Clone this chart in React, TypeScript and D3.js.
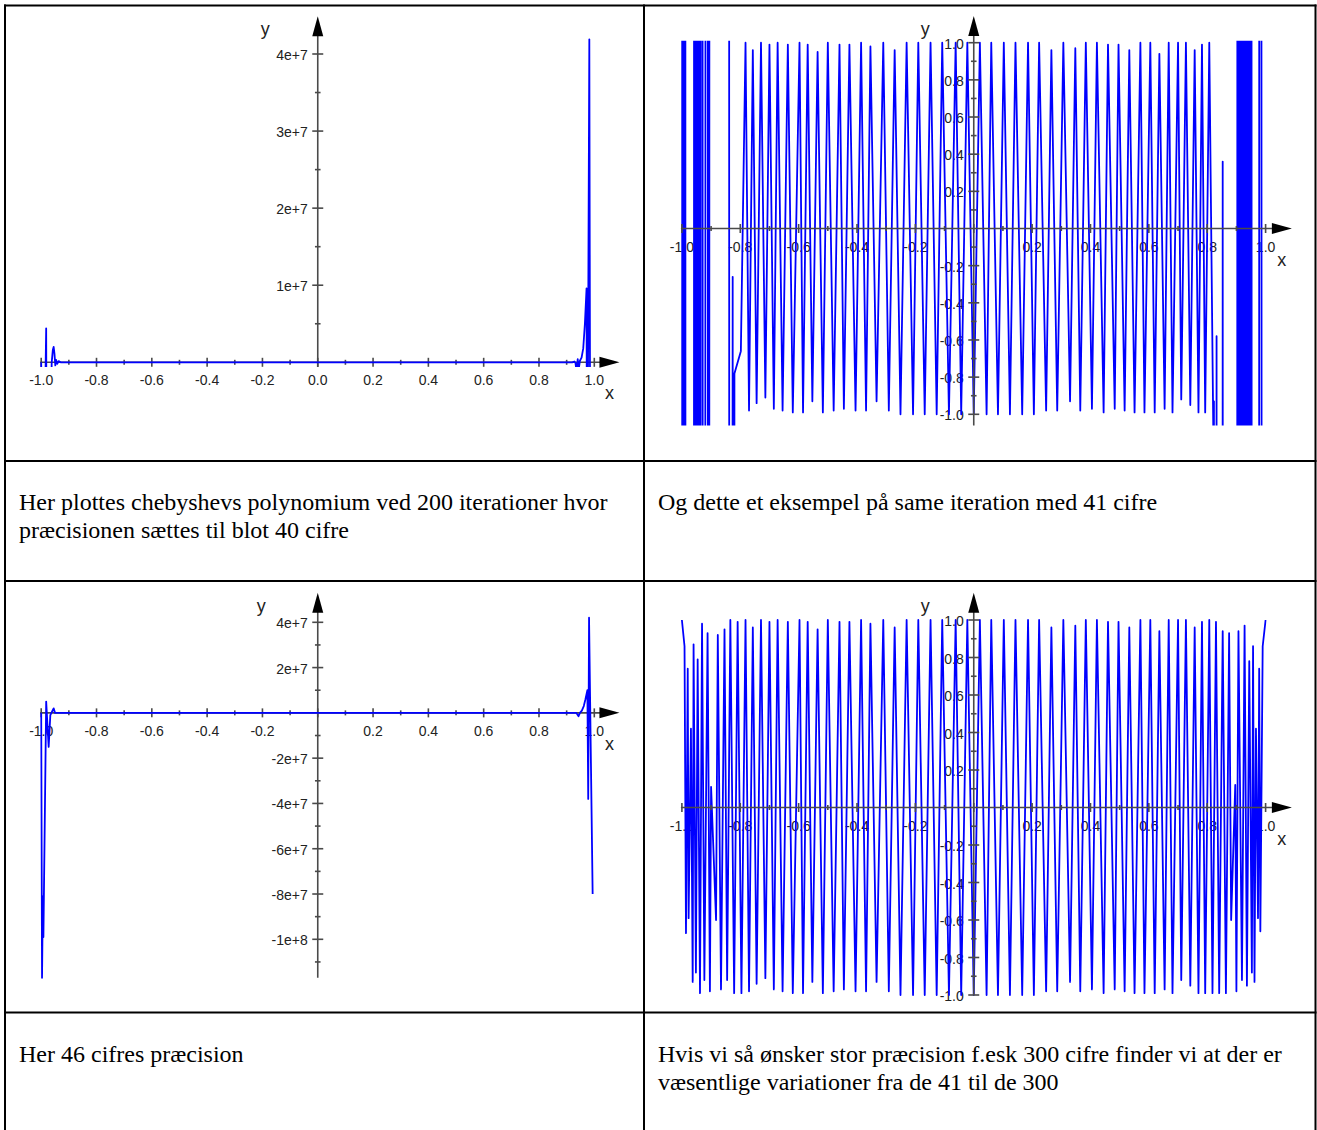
import React from 'react';
import * as d3 from 'd3';

type Pt = [number, number];

// x ticks (shared by all four plots)
const xMajor = [-1, -0.8, -0.6, -0.4, -0.2, 0, 0.2, 0.4, 0.6, 0.8, 1];
const xMajorLabels = ['-1.0', '-0.8', '-0.6', '-0.4', '-0.2', '0.0', '0.2', '0.4', '0.6', '0.8', '1.0'];
const xMinor = [-0.9, -0.7, -0.5, -0.3, -0.1, 0.1, 0.3, 0.5, 0.7, 0.9];

// y ticks
const p1YMajor = [1e7, 2e7, 3e7, 4e7];
const p1YLabels = ['1e+7', '2e+7', '3e+7', '4e+7'];
const p1YMinor = [5e6, 1.5e7, 2.5e7, 3.5e7];

const p3YMajor = [4e7, 2e7, -2e7, -4e7, -6e7, -8e7, -1e8];
const p3YLabels = ['4e+7', '2e+7', '-2e+7', '-4e+7', '-6e+7', '-8e+7', '-1e+8'];
const p3YMinor = [3e7, 1e7, -1e7, -3e7, -5e7, -7e7, -9e7, -1.1e8];

const unitYMajor = [1, 0.8, 0.6, 0.4, 0.2, -0.2, -0.4, -0.6, -0.8, -1];
const unitYLabels = ['1.0', '0.8', '0.6', '0.4', '0.2', '-0.2', '-0.4', '-0.6', '-0.8', '-1.0'];
const unitYMinor = [0.9, 0.7, 0.5, 0.3, 0.1, -0.1, -0.3, -0.5, -0.7, -0.9];

// 40 digits: flat, blows up at the ends
const p1Series: Pt[] = [
  [-1, 0], [-0.996, -3e7], [-0.982, 4.4e6], [-0.979, -3e7], [-0.962, 0], [-0.958, 1.6e6],
  [-0.955, 2.0e6], [-0.952, 1.1e6], [-0.949, -4e5], [-0.946, 3e5], [-0.942, -2e5], [-0.937, 1.5e5],
  [-0.93, 0], [0.92, 0], [0.928, 1e5], [0.932, -1e5], [0.936, -1.2e6], [0.94, 4e5], [0.944, -8e5],
  [0.948, 2e5], [0.954, 6e5], [0.96, 1.8e6], [0.966, 5.0e6], [0.972, 9.6e6], [0.974, -3e7],
  [0.982, 4.19e7], [0.986, -3e7], [1, -3e7],
];

// 46 digits
const p3Series: Pt[] = [
  [-1, 0], [-0.997, -11.7e7], [-0.994, -8.1e7], [-0.992, -9.9e7], [-0.982, 0.5e7], [-0.973, -1.5e7],
  [-0.967, -0.1e7], [-0.961, 0.05e7], [-0.955, 0.2e7], [-0.95, 0], [-0.94, 0], [0.935, 0],
  [0.943, -0.15e7], [0.948, 0], [0.955, 0.1e7], [0.962, 0.3e7], [0.968, 0.6e7], [0.975, 1.0e7],
  [0.978, -3.8e7], [0.981, 4.2e7], [0.994, -8.0e7],
];

// zigzag in the middle, the same in the 41 and 300 digit plots
const middle: Pt[] = [
  [-0.782, 1.0], [-0.770, -0.98], [-0.757, 0.96], [-0.744, -0.94], [-0.729, 1.0], [-0.714, -0.91],
  [-0.700, 0.99], [-0.685, -0.97], [-0.672, 1.0], [-0.655, -0.98], [-0.637, 0.99], [-0.620, -0.99],
  [-0.597, 1.0], [-0.585, -0.99], [-0.569, 0.99], [-0.553, -0.93], [-0.535, 0.95], [-0.517, -0.99],
  [-0.500, 1.0], [-0.480, -0.98], [-0.460, 0.99], [-0.445, -0.97], [-0.426, 0.99], [-0.405, -0.98],
  [-0.386, 1.0], [-0.369, -0.98], [-0.354, 0.98], [-0.333, -0.93], [-0.310, 1.0], [-0.291, -0.98],
  [-0.271, 0.96], [-0.251, -1.0], [-0.230, 1.0], [-0.208, -1.0], [-0.190, 1.0], [-0.168, -1.0],
  [-0.148, 1.0], [-0.127, -1.0], [-0.108, 1.0], [-0.085, -1.0], [-0.062, 1.0], [-0.043, -1.0],
  [-0.022, 1.0], [0.0, -1.0], [0.021, 1.0], [0.044, -1.0], [0.060, 1.0], [0.083, -1.0],
  [0.103, 1.0], [0.124, -1.0], [0.143, 1.0], [0.166, -1.0], [0.186, 1.0], [0.206, -1.0],
  [0.224, 1.0], [0.248, -0.98], [0.266, 0.96], [0.286, -0.98], [0.307, 1.0], [0.330, -0.93],
  [0.348, 0.97], [0.365, -0.98], [0.384, 1.0], [0.405, -0.97], [0.422, 1.0], [0.445, -0.99],
  [0.460, 0.99], [0.483, -0.97], [0.496, 0.99], [0.517, -0.98], [0.533, 0.96], [0.551, -0.99],
  [0.571, 1.0], [0.585, -0.99], [0.605, 1.0], [0.620, -0.99], [0.636, 0.94], [0.654, -0.97],
  [0.668, 1.0], [0.681, -0.99], [0.700, 1.0], [0.711, -0.92], [0.727, 1.0], [0.742, -0.95],
  [0.757, 0.96], [0.770, -0.99], [0.782, 0.99], [0.793, -0.99], [0.807, 1.0],
];

// 300 digits, ends
const p4Left: Pt[] = [
  [-1.0, 1.0], [-0.991, 0.86], [-0.986, -0.67], [-0.980, 0.74], [-0.977, -0.59], [-0.969, 0.42],
  [-0.963, -0.93], [-0.960, 0.87], [-0.952, -0.88], [-0.946, 0.79], [-0.938, -0.99], [-0.931, 0.98],
  [-0.923, -0.92], [-0.912, 0.93], [-0.904, -0.98], [-0.900, 0.11], [-0.883, -0.60], [-0.877, 0.92],
  [-0.866, -0.97], [-0.854, 0.95], [-0.845, -0.92], [-0.834, 1.0], [-0.821, -0.99], [-0.809, 0.99],
  [-0.796, -0.99],
];
const p4Right: Pt[] = [
  [0.818, -0.99], [0.830, 0.99], [0.841, -0.99], [0.853, 0.94], [0.864, -0.99], [0.875, 0.93],
  [0.882, -0.60], [0.896, 0.12], [0.900, -0.98], [0.907, 0.94], [0.919, -0.92], [0.928, 0.97],
  [0.936, -0.95], [0.944, 0.78], [0.953, -0.88], [0.957, 0.86], [0.962, -0.93], [0.967, 0.42],
  [0.974, -0.59], [0.978, 0.74], [0.982, -0.66], [0.990, 0.86], [1.0, 1.0],
];

// 41 digits, ends (values far outside the window drawn as +-25)
const p2Left: Pt[] = [
  [-1.0, 25], [-0.998, -25], [-0.990, 25], [-0.986, -25], [-0.982, -25], [-0.960, -25],
  [-0.957, 25], [-0.954, -25], [-0.951, 25], [-0.947, -25], [-0.943, 25], [-0.939, -25],
  [-0.933, 25], [-0.925, -25], [-0.914, 25], [-0.908, -25], [-0.904, 25], [-0.840, 25],
  [-0.836, -25], [-0.826, -0.26], [-0.824, -25], [-0.820, -0.78], [-0.798, -0.66],
];
const p2Right: Pt[] = [
  [0.8215, -1.2], [0.823, -0.93], [0.825, -25], [0.832, -0.58], [0.834, -25], [0.850, -25],
  [0.853, 0.36], [0.856, -25], [0.900, -25], [0.906, 25], [0.908, -25], [0.916, 25], [0.920, -25],
  [0.926, 25], [0.932, -25], [0.938, 25], [0.944, -25], [0.948, 25], [0.956, -25], [0.975, -25],
  [0.981, 25], [0.991, -25], [1.0, -25],
];

const p2Series: Pt[] = [...p2Left, ...middle, ...p2Right];
const p4Series: Pt[] = [...p4Left, ...middle, ...p4Right];

const captions = [
  { x: 19, y: 510, lines: ['Her plottes chebyshevs polynomium ved 200 iterationer hvor', 'præcisionen sættes til blot 40 cifre'] },
  { x: 658, y: 510, lines: ['Og dette et eksempel på same iteration med 41 cifre'] },
  { x: 19, y: 1062, lines: ['Her 46 cifres præcision'] },
  { x: 658, y: 1062, lines: ['Hvis vi så ønsker stor præcision f.esk 300 cifre finder vi at der er', 'væsentlige variationer fra de 41 til de 300'] },
];

interface PanelCfg {
  id: string;
  series: Pt[];
  xPx: [number, number];
  yDomain: [number, number];
  yPx: [number, number];
  clipY: [number, number];
  yAxisBottom: number;
  yAxisTip: number;
  xAxisTip: number;
  yMajor: number[];
  yLabels: string[];
  yMinor: number[];
  showZeroX: boolean;
  yNameDx: number;
  curveOnTop: boolean;
}

const panels: PanelCfg[] = [
  {
    id: 'p1', series: p1Series, xPx: [41.2, 594.3], yDomain: [0, 4e7], yPx: [362.3, 54],
    clipY: [-0.06e7, 4.3e7], yAxisBottom: -0.06e7, yAxisTip: 4.49e7, xAxisTip: 1.091,
    yMajor: p1YMajor, yLabels: p1YLabels, yMinor: p1YMinor, showZeroX: true, yNameDx: -48, curveOnTop: true,
  },
  {
    id: 'p2', series: p2Series, xPx: [681.9, 1265.6], yDomain: [-1, 1], yPx: [414.3, 42.7],
    clipY: [-1.06, 1.01], yAxisBottom: -1.06, yAxisTip: 1.144, xAxisTip: 1.09,
    yMajor: unitYMajor, yLabels: unitYLabels, yMinor: unitYMinor, showZeroX: false, yNameDx: -44, curveOnTop: false,
  },
  {
    id: 'p3', series: p3Series, xPx: [41.2, 594.3], yDomain: [-1e8, 4e7], yPx: [939.3, 622.3],
    clipY: [-11.75e7, 4.4e7], yAxisBottom: -11.7e7, yAxisTip: 5.31e7, xAxisTip: 1.091,
    yMajor: p3YMajor, yLabels: p3YLabels, yMinor: p3YMinor, showZeroX: false, yNameDx: -52, curveOnTop: true,
  },
  {
    id: 'p4', series: p4Series, xPx: [681.9, 1265.6], yDomain: [-1, 1], yPx: [995, 620],
    clipY: [-1.01, 1.01], yAxisBottom: -1.0, yAxisTip: 1.146, xAxisTip: 1.09,
    yMajor: unitYMajor, yLabels: unitYLabels, yMinor: unitYMinor, showZeroX: false, yNameDx: -44, curveOnTop: false,
  },
];

const axisColor = '#4a4a4a';
const labelFont = 'Liberation Sans, Arial, sans-serif';

function Panel({ cfg }: { cfg: PanelCfg }) {
  const x = d3.scaleLinear().domain([-1, 1]).range(cfg.xPx);
  const y = d3.scaleLinear().domain(cfg.yDomain).range(cfg.yPx);
  const line = d3.line<Pt>().x((d) => x(d[0])).y((d) => y(d[1]));

  const x0 = x(0);
  const y0 = y(0);
  const tipX = x(cfg.xAxisTip);
  const tipY = y(cfg.yAxisTip);
  const aLen = 20;
  const aHalf = 5.5;

  const clipTop = y(cfg.clipY[1]);
  const clipBottom = y(cfg.clipY[0]);
  const clipLeft = x(-1.004);
  const clipRight = x(1.004);

  const curve = (
    <path
      d={line(cfg.series) || ''}
      fill="none"
      stroke="#0000ff"
      strokeWidth={1.8}
      strokeLinejoin="round"
      clipPath={`url(#clip-${cfg.id})`}
    />
  );

  return (
    <g>
      <defs>
        <clipPath id={`clip-${cfg.id}`}>
          <rect x={clipLeft} y={clipTop} width={clipRight - clipLeft} height={clipBottom - clipTop} />
        </clipPath>
      </defs>

      {/* tick labels, under the curve */}
      <g fontFamily={labelFont} fontSize={14} fill="#222">
        {xMajor.map((v, i) =>
          !cfg.showZeroX && v === 0 ? null : (
            <text key={`xl${i}`} x={x(v)} y={y0 + 23} textAnchor="middle">
              {xMajorLabels[i]}
            </text>
          )
        )}
        {cfg.yMajor.map((v, i) => (
          <text key={`yl${i}`} x={x0 - 10} y={y(v) + 6} textAnchor="end">
            {cfg.yLabels[i]}
          </text>
        ))}
      </g>

      {!cfg.curveOnTop && curve}

      {/* axes */}
      <g stroke={axisColor} strokeWidth={1.6}>
        <line x1={x(-1) - 1} x2={tipX - aLen + 2} y1={y0} y2={y0} />
        <line x1={x0} x2={x0} y1={y(cfg.yAxisBottom)} y2={tipY + aLen - 2} />
        {xMajor.map((v, i) => (
          <line key={`xt${i}`} x1={x(v)} x2={x(v)} y1={y0 - 4.5} y2={y0 + 4.5} />
        ))}
        {xMinor.map((v, i) => (
          <line key={`xm${i}`} x1={x(v)} x2={x(v)} y1={y0 - 2.5} y2={y0 + 2.5} />
        ))}
        {cfg.yMajor.map((v, i) => (
          <line key={`yt${i}`} x1={x0 - 5.5} x2={x0 + 5.5} y1={y(v)} y2={y(v)} />
        ))}
        {cfg.yMinor.map((v, i) => (
          <line key={`ym${i}`} x1={x0 - 2.8} x2={x0 + 2.8} y1={y(v)} y2={y(v)} />
        ))}
      </g>
      <polygon points={`${tipX},${y0} ${tipX - aLen},${y0 - aHalf} ${tipX - aLen},${y0 + aHalf}`} fill="#000" />
      <polygon points={`${x0},${tipY} ${x0 - aHalf},${tipY + aLen} ${x0 + aHalf},${tipY + aLen}`} fill="#000" />

      {cfg.curveOnTop && curve}

      <g fontFamily={labelFont} fontSize={18} fill="#222">
        <text x={tipX - 10} y={y0 + 37} textAnchor="middle">x</text>
        <text x={x0 + cfg.yNameDx} y={tipY + 19} textAnchor="end">y</text>
      </g>
    </g>
  );
}

export default function App() {
  const W = 1317;
  const H = 1130;
  const colX = 644;
  const rowYs = [461, 581, 1012.5];

  return (
    <svg width={W} height={H} style={{ position: 'absolute', left: 0, top: 0, background: '#fff' }}>
      {panels.map((p) => (
        <Panel key={p.id} cfg={p} />
      ))}

      {/* table grid */}
      <g stroke="#000" strokeWidth={2}>
        <line x1={4} x2={1316.5} y1={5.5} y2={5.5} />
        <line x1={5} x2={5} y1={4.5} y2={H} />
        <line x1={1315.5} x2={1315.5} y1={4.5} y2={H} />
        <line x1={colX} x2={colX} y1={4.5} y2={H} />
        {rowYs.map((ry, i) => (
          <line key={i} x1={4} x2={1316.5} y1={ry} y2={ry} />
        ))}
      </g>

      <g fontFamily="Liberation Serif, Times New Roman, serif" fontSize={24} fill="#000">
        {captions.map((c, i) => (
          <text key={i} x={c.x} y={c.y}>
            {c.lines.map((l, j) => (
              <tspan key={j} x={c.x} y={c.y + j * 28}>
                {l}
              </tspan>
            ))}
          </text>
        ))}
      </g>
    </svg>
  );
}
